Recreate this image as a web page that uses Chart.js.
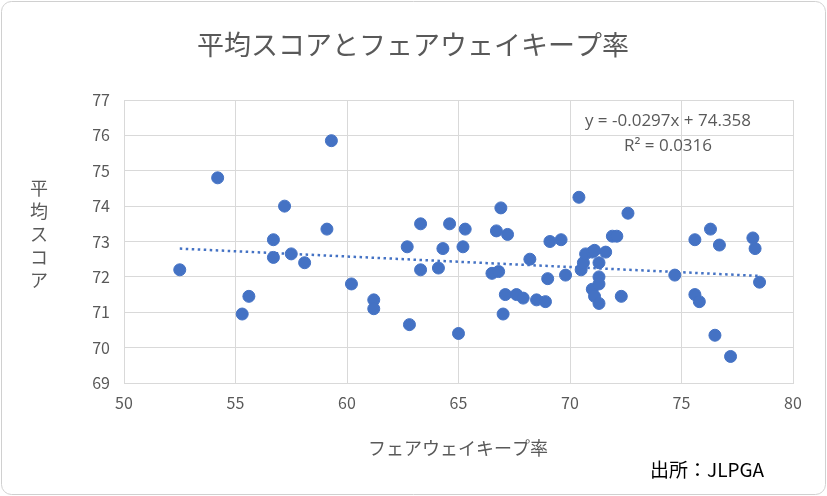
<!DOCTYPE html>
<html><head><meta charset="utf-8">
<script src="https://cdn.jsdelivr.net/npm/chart.js@4"></script>
<style>
html,body{margin:0;padding:0;background:#fff;}
#wrap{width:827px;height:496px;position:relative;}
</style></head>
<body><div id="wrap"><canvas id="c" width="827" height="496"></canvas></div>
<script>
// fairway % vs average score
const fairway = [52.5,54.2,55.3,55.6,56.7,56.7,57.2,57.5,58.1,59.1,59.3,60.2,61.2,61.2,62.7,62.8,63.3,63.3,64.1,64.3,64.6,65.0,65.2,65.3,66.5,66.7,66.8,66.9,67.0,67.1,67.2,67.6,67.9,68.2,68.5,68.9,69.0,69.1,69.6,69.8,70.4,70.5,70.6,70.7,71.0,71.0,71.1,71.1,71.3,71.3,71.3,71.3,71.6,71.9,72.1,72.3,72.6,74.7,75.6,75.6,75.8,76.3,76.5,76.7,77.2,78.2,78.3,78.5];
const score = [72.2,74.8,70.95,71.45,73.05,72.55,74.0,72.65,72.4,73.35,75.85,71.8,71.35,71.1,72.85,70.65,73.5,72.2,72.25,72.8,73.5,70.4,72.85,73.35,72.1,73.3,72.15,73.95,70.95,71.5,73.2,71.5,71.4,72.5,71.35,71.3,71.95,73.0,73.05,72.05,74.25,72.2,72.4,72.65,72.7,71.65,71.45,72.75,72.4,72.0,71.8,71.25,72.7,73.15,73.15,71.45,73.8,72.05,73.05,71.5,71.3,73.35,70.35,72.9,69.75,73.1,72.8,71.85];
const slope = -0.0297, intercept = 74.358;
const trendX = [52.5, 78.5];

const font = '"Noto Sans CJK JP", "Noto Sans", sans-serif';
const grey = '#595959';

const decor = {
  id: 'decor',
  afterDraw(chart) {
    const g = chart.ctx;
    g.save();
    g.strokeStyle = '#d0d0d0'; g.lineWidth = 1;
    g.beginPath(); g.roundRect(1.5, 1.5, 824, 493, 10); g.stroke();
    g.fillStyle = grey; g.textAlign = 'center'; g.textBaseline = 'middle';
    g.font = '27px ' + font;
    g.fillText('平均スコアとフェアウェイキープ率', 413, 45);
    g.font = '18px ' + font;
    g.fillText('フェアウェイキープ率', 458, 448);
    const yt = '平均スコア';
    for (let i = 0; i < yt.length; i++) g.fillText(yt[i], 39, 188 + i * 23);
    g.font = '17px "Open Sans", sans-serif';
    g.fillText('y = -0.0297x + 74.358', 668, 121);
    g.fillText('R² = 0.0316', 668, 146);
    g.fillStyle = '#000'; g.font = '19px ' + font;
    g.fillText('出所：JLPGA', 707, 470);
    g.restore();
  }
};

new Chart(document.getElementById('c'), {
  type: 'scatter',
  data: {
    datasets: [
      {
        data: fairway.map((x, i) => ({ x: x, y: score[i] })),
        backgroundColor: '#4472c4', borderColor: '#4472c4',
        pointRadius: 6
      },
      {
        type: 'line',
        data: trendX.map(x => ({ x: x, y: slope * x + intercept })),
        borderColor: '#4472c4', borderWidth: 2.5, borderDash: [2.5, 3.5],
        pointRadius: 0, fill: false
      }
    ]
  },
  options: {
    responsive: false, animation: false,
    layout: { padding: { top: 100, right: 34, left: 0, bottom: 0 } },
    plugins: { legend: { display: false }, tooltip: { enabled: false } },
    scales: {
      x: {
        min: 50, max: 80,
        ticks: { stepSize: 5, color: grey, font: { size: 16, family: font }, padding: 10 },
        grid: { color: '#d9d9d9', drawTicks: false },
        border: { color: '#d9d9d9' },
        afterFit(s) { s.height = 113; }
      },
      y: {
        min: 69, max: 77,
        ticks: { stepSize: 1, color: grey, font: { size: 16, family: font }, padding: 14 },
        grid: { color: '#d9d9d9', drawTicks: false },
        border: { color: '#d9d9d9' },
        afterFit(s) { s.width = 124; }
      }
    }
  },
  plugins: [decor]
});
</script></body></html>
